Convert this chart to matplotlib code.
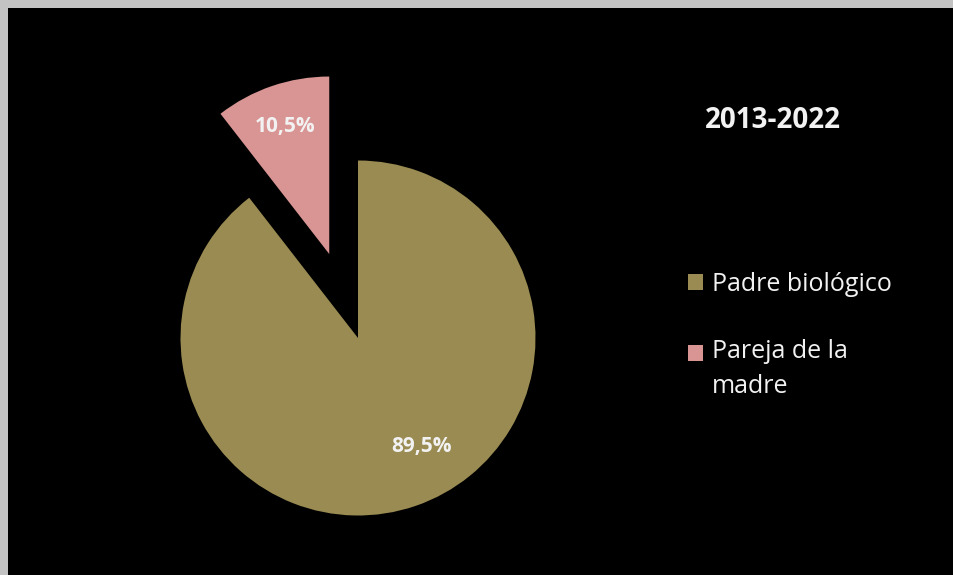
import matplotlib
matplotlib.use("Agg")
import matplotlib.pyplot as plt
from matplotlib.patches import Rectangle
from matplotlib.legend_handler import HandlerPatch

# datos
labels = ["Padre biológico", "Pareja de la\nmadre"]
values = [89.5, 10.5]
pct_text = ["89,5%", "10,5%"]
colors = ["#9a8b52", "#d99594"]
title = "2013-2022"

W, H = 954, 575
plt.rcParams['font.family'] = ['Open Sans', 'DejaVu Sans']
txt_color = "#f2f2f2"


class HandlerArriba(HandlerPatch):
    """Cuadro de leyenda alineado con la primera linea (como Excel)."""
    def __init__(self, dy):
        super().__init__()
        self.dy = dy

    def create_artists(self, legend, orig_handle, xdescent, ydescent,
                       width, height, fontsize, trans):
        return super().create_artists(legend, orig_handle, xdescent,
                                      ydescent - self.dy, width, height,
                                      fontsize, trans)


fig = plt.figure(figsize=(W / 100, H / 100), dpi=100, facecolor="#c3c3c3")
# area negra del grafico
fig.patches.append(Rectangle((8 / W, 0), 1 - 8 / W, 1 - 8 / H,
                             transform=fig.transFigure, facecolor="black",
                             edgecolor="none", zorder=-5))

R = 177.5  # radio en px
cx, cy = 358, H - 338
xl, xr, yb, yt = -1.2, 1.2, -1.1, 1.6
ax = fig.add_axes([(cx + xl * R) / W, (cy + yb * R) / H,
                   (xr - xl) * R / W, (yt - yb) * R / H])
ax.set_zorder(2)

wedges, texts, autotexts = ax.pie(
    values, colors=colors, startangle=90, counterclock=False,
    explode=[0, 0.5], radius=1, pctdistance=0.76,
    autopct=lambda p: "", wedgeprops=dict(linewidth=0))
# pie() fija sus propios limites: los reponemos despues
ax.set_xlim(xl, xr)
ax.set_ylim(yb, yt)
ax.axis("off")

for t, s in zip(autotexts, pct_text):
    t.set_text(s)
    t.set_color(txt_color)
    t.set_fontsize(15)
    t.set_fontweight("bold")
# Excel coloca la etiqueta grande algo mas a la derecha
autotexts[0].set_position((0.36, -0.61))

fig.text(773 / W, (H - 120) / H, title, color=txt_color, fontsize=20,
         fontweight="bold", ha="center", va="center")

leg = fig.legend(wedges, labels, loc="upper left",
                 bbox_to_anchor=(688 / W, (H - 272) / H),
                 frameon=False, fontsize=18, labelcolor=txt_color,
                 handlelength=0.6, handleheight=0.6, handletextpad=0.35,
                 labelspacing=1.7, borderpad=0, borderaxespad=0,
                 handler_map={wedges[1]: HandlerArriba(12.6)})
for t in leg.get_texts():
    t.set_linespacing(1.52)

fig.savefig("out.png", dpi=100, facecolor=fig.get_facecolor())
